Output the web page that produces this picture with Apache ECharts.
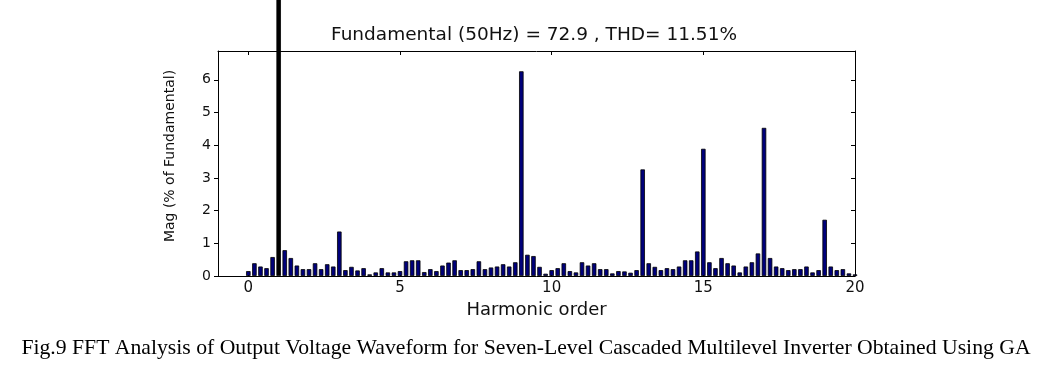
<!DOCTYPE html>
<html>
<head>
<meta charset="utf-8">
<script src="https://cdn.jsdelivr.net/npm/echarts@6/dist/echarts.min.js"></script>
<style>
html,body{margin:0;padding:0;background:#fff;}
#chart{width:1044px;height:366px;}
</style>
</head>
<body>
<div id="chart"></div>
<script>
// Harmonic order step between bars
const harmonicStep = 0.2;
// Magnitudes (% of fundamental), bar k at harmonic order k*0.2 (k = 0..100)
const magnitudes = [
  0.15, 0.39, 0.29, 0.24, 0.58, 100, 0.79, 0.55, 0.32, 0.21,
  0.21, 0.39, 0.21, 0.36, 0.29, 1.36, 0.18, 0.28, 0.17, 0.24,
  0.05, 0.11, 0.24, 0.11, 0.11, 0.15, 0.45, 0.48, 0.48, 0.12,
  0.21, 0.15, 0.32, 0.41, 0.48, 0.18, 0.18, 0.21, 0.45, 0.21,
  0.26, 0.29, 0.36, 0.29, 0.42, 6.26, 0.65, 0.61, 0.28, 0.07,
  0.18, 0.24, 0.39, 0.15, 0.11, 0.42, 0.32, 0.39, 0.21, 0.21,
  0.08, 0.15, 0.14, 0.10, 0.18, 3.26, 0.39, 0.28, 0.18, 0.24,
  0.21, 0.29, 0.48, 0.48, 0.75, 3.89, 0.42, 0.24, 0.55, 0.39,
  0.32, 0.11, 0.29, 0.42, 0.69, 4.53, 0.55, 0.29, 0.24, 0.18,
  0.21, 0.21, 0.29, 0.11, 0.18, 1.72, 0.29, 0.18, 0.21, 0.08,
  0.05
];
const xTickValues = [0, 5, 10, 15, 20];
const yTickValues = [0, 1, 2, 3, 4, 5, 6];
const titleText = 'Fundamental (50Hz) = 72.9 , THD= 11.51%';
const xAxisName = 'Harmonic order';
const yAxisName = 'Mag (% of Fundamental)';
const captionText = 'Fig.9 FFT Analysis of Output Voltage Waveform for Seven-Level Cascaded Multilevel Inverter Obtained Using GA';

const seriesData = magnitudes.map((v, k) => {
  const item = { value: [Math.round(k * harmonicStep * 10) / 10, v] };
  if (v >= 50) item.itemStyle = { color: '#000', borderColor: '#000' };
  return item;
});

const chart = echarts.init(document.getElementById('chart'), null, { renderer: 'canvas' });
const txt = '#111';
chart.setOption({
  backgroundColor: '#fff',
  animation: false,
  grid: { left: 218, top: 51, width: 637, height: 225, containLabel: false },
  xAxis: [{
    type: 'value', min: -1, max: 20,
    axisLine: { show: true, onZero: false, lineStyle: { color: '#000', width: 1 } },
    axisTick: { show: true, inside: true, length: 4, customValues: xTickValues, lineStyle: { color: '#000' } },
    axisLabel: { customValues: xTickValues, color: txt, fontFamily: 'DejaVu Sans', fontSize: 15, margin: 5 },
    splitLine: { show: false },
    name: xAxisName, nameLocation: 'middle', nameGap: 24,
    nameTextStyle: { color: txt, fontFamily: 'DejaVu Sans', fontSize: 18 }
  }, {
    type: 'value', min: -1, max: 20, position: 'top',
    axisLine: { show: true, onZero: false, lineStyle: { color: '#000', width: 1 } },
    axisTick: { show: true, inside: true, length: 4, customValues: xTickValues, lineStyle: { color: '#000' } },
    axisLabel: { show: false },
    splitLine: { show: false }
  }],
  yAxis: [{
    type: 'value', min: 0, max: 6.88,
    axisLine: { show: true, onZero: false, lineStyle: { color: '#000', width: 1 } },
    axisTick: { show: true, inside: false, length: 4, customValues: yTickValues, lineStyle: { color: '#000' } },
    axisLabel: { customValues: yTickValues, color: txt, fontFamily: 'DejaVu Sans', fontSize: 14, margin: 7 },
    splitLine: { show: false }
  }, {
    type: 'value', min: 0, max: 6.88, position: 'right',
    axisLine: { show: true, onZero: false, lineStyle: { color: '#000', width: 1 } },
    axisTick: { show: true, inside: true, length: 4, customValues: yTickValues, lineStyle: { color: '#000' } },
    axisLabel: { show: false },
    splitLine: { show: false }
  }],
  series: [{
    type: 'bar',
    xAxisIndex: 0, yAxisIndex: 0,
    data: seriesData,
    barWidth: 4.5,
    clip: false,
    itemStyle: { color: '#00007a', borderColor: '#000', borderWidth: 0.8 }
  }],
  graphic: [
    { type: 'text', x: 534, y: 35, z: 10,
      style: { text: titleText, fill: txt, font: '18.5px "DejaVu Sans"', textAlign: 'center', textVerticalAlign: 'middle' } },
    { type: 'text', x: 170, y: 156, rotation: Math.PI / 2,
      style: { text: yAxisName, fill: txt, font: '14px "DejaVu Sans"', textAlign: 'center', textVerticalAlign: 'middle' } },
    { type: 'text', x: 526, y: 348,
      style: { text: captionText, fill: '#000', font: '21.7px "Liberation Serif"', textAlign: 'center', textVerticalAlign: 'middle' } }
  ]
});
</script>
</body>
</html>
